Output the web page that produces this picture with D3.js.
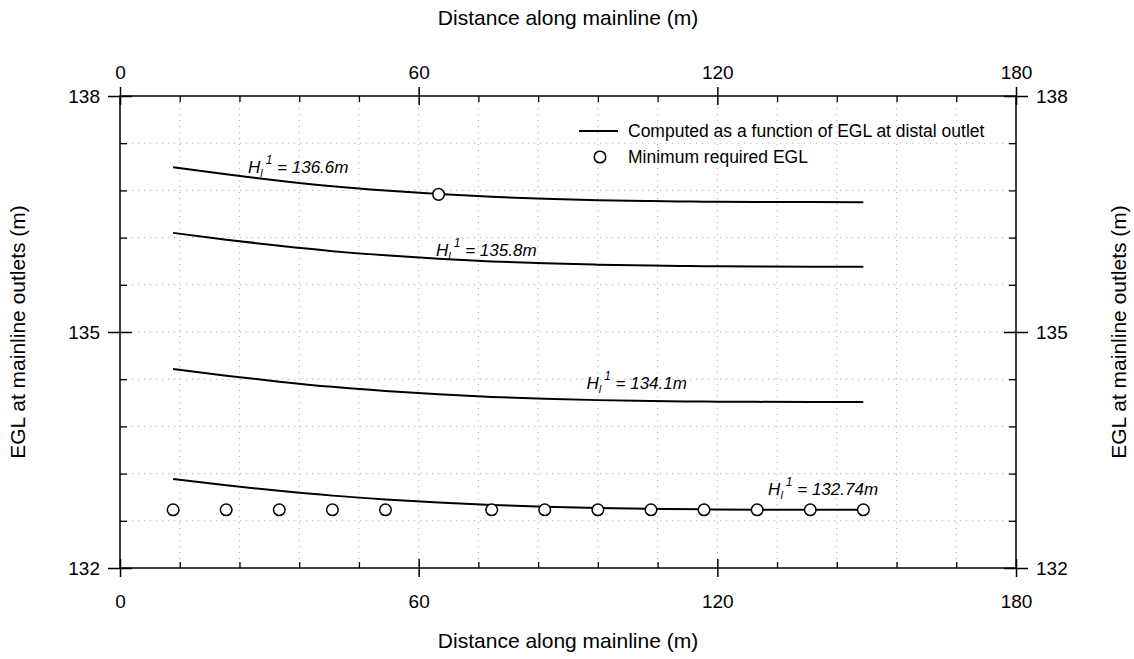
<!DOCTYPE html>
<html>
<head>
<meta charset="utf-8">
<script src="https://cdn.jsdelivr.net/npm/d3@7"></script>
<style>
  html, body { margin: 0; padding: 0; background: #fff; }
  svg { display: block; font-family: "Liberation Sans", Arial, sans-serif; }
</style>
</head>
<body>
<svg id="chart" width="1134" height="659"></svg>
<script>
// ---- data ----
const outletX = [10.67, 21.33, 32, 42.67, 53.33, 64, 74.67, 85.33, 96, 106.67, 117.33, 128, 138.67, 149.33];
const egl1366 = [137.094, 137.004, 136.924, 136.854, 136.799, 136.754, 136.719, 136.694, 136.676, 136.664, 136.657, 136.653, 136.651, 136.650];
const egl1358 = [136.260, 136.173, 136.096, 136.028, 135.975, 135.931, 135.897, 135.873, 135.856, 135.844, 135.837, 135.833, 135.831, 135.830];
const egl1341 = [134.530, 134.445, 134.369, 134.303, 134.251, 134.208, 134.175, 134.151, 134.134, 134.123, 134.116, 134.112, 134.110, 134.109];
const egl13274 = [133.130, 133.051, 132.981, 132.920, 132.872, 132.832, 132.801, 132.779, 132.763, 132.752, 132.746, 132.742, 132.740, 132.739];
const minReqX = [10.67, 21.33, 32, 42.67, 53.33, 64, 74.67, 85.33, 96, 106.67, 117.33, 128, 138.67, 149.33];
const minReqEGL = [132.74, 132.74, 132.74, 132.74, 132.74, 136.75, 132.74, 132.74, 132.74, 132.74, 132.74, 132.74, 132.74, 132.74];
const curveLabels = ["136.6m", "135.8m", "134.1m", "132.74m"];
const labelX = [25.7, 63.5, 93.7, 130.2];
const labelY = [137.02, 135.96, 134.27, 132.93];
const xMajorTicks = [0, 60, 120, 180];
const yMajorTicks = [132, 135, 138];
const xMinorTicks = [12, 24, 36, 48, 72, 84, 96, 108, 132, 144, 156, 168];
const yMinorTicks = [132.6, 133.2, 133.8, 134.4, 135.6, 136.2, 136.8, 137.4];

// ---- layout ----
const svg = d3.select("#chart");
const L = 120, R = 1016, T = 96, B = 568;
const x = d3.scaleLinear().domain([0, 180]).range([L, R]);
const y = d3.scaleLinear().domain([132, 138]).range([B, T]);
const fmt = d3.format("d");

// grid
const grid = svg.append("g").attr("stroke", "#b0b0b0").attr("stroke-width", 1).attr("stroke-dasharray", "1.2,4.8");
grid.selectAll(".gx").data(xMinorTicks.concat([60, 120])).enter().append("line")
  .attr("x1", d => x(d)).attr("x2", d => x(d)).attr("y1", T).attr("y2", B);
grid.selectAll(".gy").data(yMinorTicks.concat([135])).enter().append("line")
  .attr("y1", d => y(d)).attr("y2", d => y(d)).attr("x1", L).attr("x2", R);

// minor ticks (inward)
function minorAxis(gen, tr) {
  const g = svg.append("g").attr("transform", tr).call(gen);
  g.select(".domain").remove();
  g.selectAll("text").remove();
  g.selectAll("line").attr("stroke", "#000").attr("stroke-width", 1.3);
}
minorAxis(d3.axisBottom(x).tickValues(xMinorTicks).tickSize(-6), `translate(0,${B})`);
minorAxis(d3.axisTop(x).tickValues(xMinorTicks).tickSize(-6), `translate(0,${T})`);
minorAxis(d3.axisLeft(y).tickValues(yMinorTicks).tickSize(-7), `translate(${L},0)`);
minorAxis(d3.axisRight(y).tickValues(yMinorTicks).tickSize(-7), `translate(${R},0)`);

// major ticks crossing the axes
function majorAxis(genOut, genIn, tr) {
  const g = svg.append("g").attr("transform", tr).call(genOut);
  g.select(".domain").remove();
  g.selectAll("line").attr("stroke", "#000").attr("stroke-width", 1.5);
  g.selectAll("text").attr("fill", "#000").style("font-size", "19px");
  const g2 = svg.append("g").attr("transform", tr).call(genIn);
  g2.select(".domain").remove();
  g2.selectAll("text").remove();
  g2.selectAll("line").attr("stroke", "#000").attr("stroke-width", 1.5);
  return g;
}
majorAxis(d3.axisBottom(x).tickValues(xMajorTicks).tickFormat(fmt).tickSize(9).tickPadding(18),
          d3.axisBottom(x).tickValues(xMajorTicks).tickSize(-9), `translate(0,${B})`);
majorAxis(d3.axisTop(x).tickValues(xMajorTicks).tickFormat(fmt).tickSize(9).tickPadding(8),
          d3.axisTop(x).tickValues(xMajorTicks).tickSize(-9), `translate(0,${T})`);
majorAxis(d3.axisLeft(y).tickValues(yMajorTicks).tickFormat(fmt).tickSize(12).tickPadding(8),
          d3.axisLeft(y).tickValues(yMajorTicks).tickSize(-12), `translate(${L},0)`);
majorAxis(d3.axisRight(y).tickValues(yMajorTicks).tickFormat(fmt).tickSize(12).tickPadding(8),
          d3.axisRight(y).tickValues(yMajorTicks).tickSize(-12), `translate(${R},0)`);

// frame
svg.append("rect").attr("x", L).attr("y", T).attr("width", R - L).attr("height", B - T)
  .attr("fill", "none").attr("stroke", "#000").attr("stroke-width", 1.5);

// curves
const line = d3.line().x(d => x(d[0])).y(d => y(d[1])).curve(d3.curveMonotoneX);
[egl1366, egl1358, egl1341, egl13274].forEach(s => {
  svg.append("path").datum(outletX.map((xv, i) => [xv, s[i]]))
    .attr("d", line).attr("fill", "none").attr("stroke", "#000").attr("stroke-width", 2);
});

// min required circles
svg.append("g").selectAll("circle").data(minReqX.map((xv, i) => [xv, minReqEGL[i]])).enter()
  .append("circle").attr("cx", d => x(d[0])).attr("cy", d => y(d[1])).attr("r", 5.8)
  .attr("fill", "#fff").attr("stroke", "#000").attr("stroke-width", 1.5);

// curve labels
curveLabels.forEach((lab, i) => {
  const t = svg.append("text").attr("x", x(labelX[i])).attr("y", y(labelY[i]))
    .style("font-size", "17px").style("font-style", "italic").attr("fill", "#000");
  t.append("tspan").text("H");
  t.append("tspan").text("l").style("font-size", "11px").attr("dy", 4);
  t.append("tspan").text("1").style("font-size", "12px").attr("dx", 3).attr("dy", -13);
  t.append("tspan").text(" = " + lab).attr("dy", 9);
});

// legend
svg.append("line").attr("x1", 579).attr("x2", 618).attr("y1", 131).attr("y2", 131)
  .attr("stroke", "#000").attr("stroke-width", 2);
svg.append("text").attr("x", 628).attr("y", 137).style("font-size", "17.5px").text("Computed as a function of EGL at distal outlet");
svg.append("circle").attr("cx", 600).attr("cy", 157).attr("r", 5.8)
  .attr("fill", "#fff").attr("stroke", "#000").attr("stroke-width", 1.5);
svg.append("text").attr("x", 628).attr("y", 163).style("font-size", "17.5px").text("Minimum required EGL");

// axis titles
svg.append("text").attr("x", (L + R) / 2).attr("y", 25).attr("text-anchor", "middle")
  .style("font-size", "21px").text("Distance along mainline (m)");
svg.append("text").attr("x", (L + R) / 2).attr("y", 648).attr("text-anchor", "middle")
  .style("font-size", "21px").text("Distance along mainline (m)");
svg.append("text").attr("transform", `translate(25,${(T + B) / 2}) rotate(-90)`).attr("text-anchor", "middle")
  .style("font-size", "21px").text("EGL at mainline outlets  (m)");
svg.append("text").attr("transform", `translate(1126,${(T + B) / 2}) rotate(-90)`).attr("text-anchor", "middle")
  .style("font-size", "21px").text("EGL at mainline outlets  (m)");
</script>
</body>
</html>
